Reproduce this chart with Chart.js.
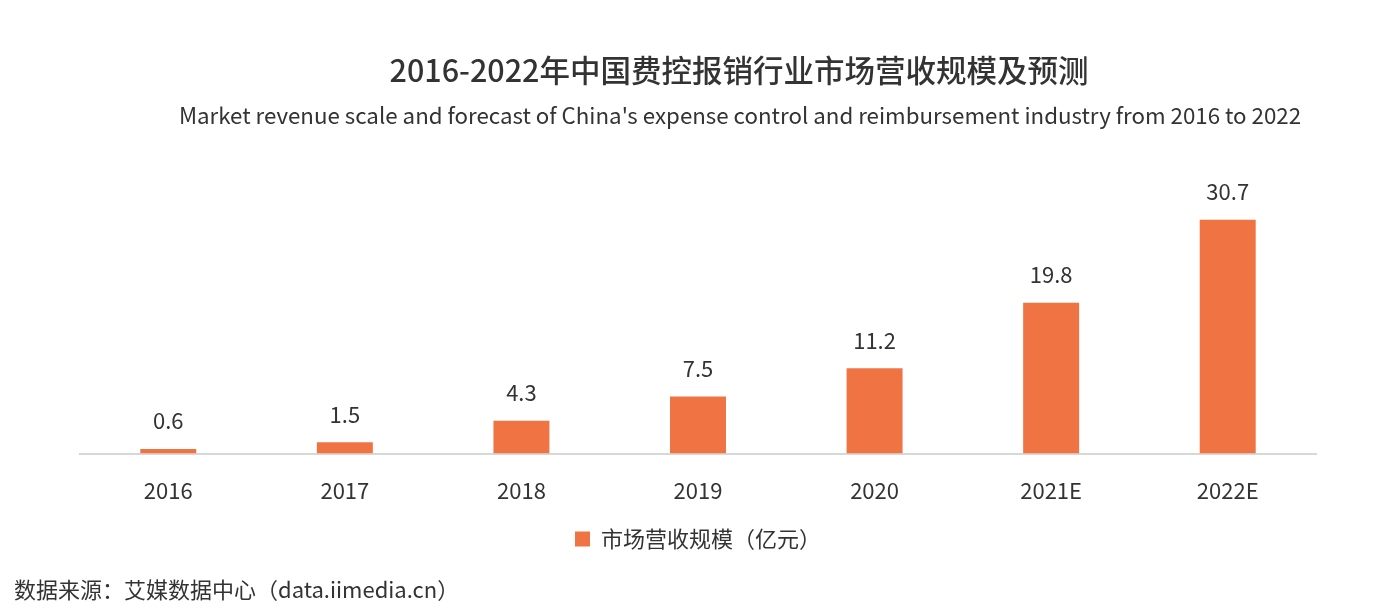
<!DOCTYPE html>
<html>
<head>
<meta charset="utf-8">
<script src="https://cdn.jsdelivr.net/npm/chart.js@4.4.0/dist/chart.umd.min.js"></script>
<style>
html,body{margin:0;padding:0;background:#fff;}
#wrap{width:1384px;height:614px;position:relative;}
</style>
</head>
<body>
<div id="wrap"><canvas id="c" width="1384" height="614"></canvas></div>
<script>
const categories = ['2016','2017','2018','2019','2020','2021E','2022E'];
const revenue = [0.6, 1.5, 4.3, 7.5, 11.2, 19.8, 30.7];
const seriesName = '市场营收规模（亿元）';
const titleText = '2016-2022年中国费控报销行业市场营收规模及预测';
const subtitleText = "Market revenue scale and forecast of China's expense control and reimbursement industry from 2016 to 2022";
const sourceText = '数据来源：艾媒数据中心（data.iimedia.cn）';

const FONT = '"Noto Sans CJK SC", "Noto Sans", sans-serif';
const TEXT = '#333333';

const textPlugin = {
  id: 'texts',
  afterDraw(chart) {
    const ctx = chart.ctx;
    ctx.save();
    ctx.fillStyle = TEXT;
    ctx.textBaseline = 'middle';
    ctx.textAlign = 'center';
    ctx.font = '500 30.5px ' + FONT;
    ctx.fillText(titleText, 739, 70);
    ctx.font = '22.3px ' + FONT;
    ctx.fillText(subtitleText, 740, 116);
    ctx.textAlign = 'left';
    ctx.font = '22px ' + FONT;
    ctx.fillText(sourceText, 14, 590);
    // value labels
    ctx.textAlign = 'center';
    ctx.font = '22px ' + FONT;
    const meta = chart.getDatasetMeta(0);
    meta.data.forEach((bar, i) => {
      ctx.fillText(revenue[i].toFixed(1), bar.x, bar.y - 28);
    });
    ctx.restore();
  }
};

new Chart(document.getElementById('c'), {
  type: 'bar',
  data: {
    labels: categories,
    datasets: [{
      label: seriesName,
      data: revenue,
      backgroundColor: '#F07443',
      borderWidth: 0,
      barPercentage: 0.317,
      categoryPercentage: 1.0
    }]
  },
  options: {
    responsive: false,
    animation: false,
    devicePixelRatio: 1,
    layout: { padding: { left: 80, right: 68, top: 187, bottom: 54 } },
    plugins: {
      legend: {
        position: 'bottom',
        labels: {
          boxWidth: 15, boxHeight: 15,
          color: TEXT,
          font: { family: FONT, size: 22 },
          padding: 0
        }
      },
      tooltip: { enabled: false }
    },
    scales: {
      x: {
        grid: { display: false, drawTicks: false },
        border: { display: true, color: '#d6dad6', width: 2 },
        ticks: { color: TEXT, font: { family: FONT, size: 22 }, padding: 24 }
      },
      y: {
        display: false,
        min: 0, max: 35
      }
    }
  },
  plugins: [textPlugin]
});
</script>
</body>
</html>
